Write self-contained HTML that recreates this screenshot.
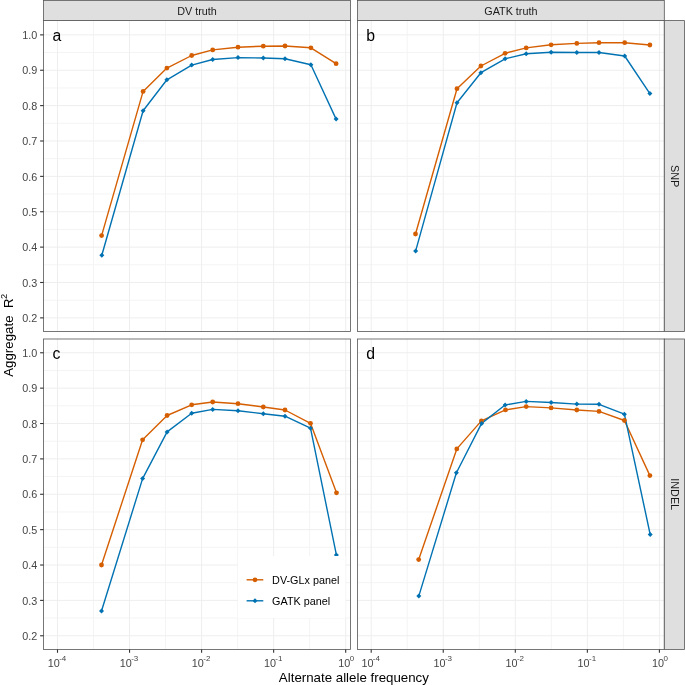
<!DOCTYPE html><html><head><meta charset="utf-8"><style>html,body{margin:0;padding:0;background:#fff;width:685px;height:685px;overflow:hidden}svg{display:block;will-change:transform}text{font-family:"Liberation Sans",sans-serif}</style></head><body>
<svg width="685" height="685" viewBox="0 0 685 685">
<rect width="685" height="685" fill="#fff"/>
<g>
<line x1="93.53" y1="20.6" x2="93.53" y2="331.5" stroke="#F4F4F4" stroke-width="1"/>
<line x1="165.57" y1="20.6" x2="165.57" y2="331.5" stroke="#F4F4F4" stroke-width="1"/>
<line x1="237.62" y1="20.6" x2="237.62" y2="331.5" stroke="#F4F4F4" stroke-width="1"/>
<line x1="309.67" y1="20.6" x2="309.67" y2="331.5" stroke="#F4F4F4" stroke-width="1"/>
<line x1="43.55" y1="300.18" x2="350.45" y2="300.18" stroke="#F4F4F4" stroke-width="1"/>
<line x1="43.55" y1="264.81" x2="350.45" y2="264.81" stroke="#F4F4F4" stroke-width="1"/>
<line x1="43.55" y1="229.43" x2="350.45" y2="229.43" stroke="#F4F4F4" stroke-width="1"/>
<line x1="43.55" y1="194.06" x2="350.45" y2="194.06" stroke="#F4F4F4" stroke-width="1"/>
<line x1="43.55" y1="158.68" x2="350.45" y2="158.68" stroke="#F4F4F4" stroke-width="1"/>
<line x1="43.55" y1="123.31" x2="350.45" y2="123.31" stroke="#F4F4F4" stroke-width="1"/>
<line x1="43.55" y1="87.93" x2="350.45" y2="87.93" stroke="#F4F4F4" stroke-width="1"/>
<line x1="43.55" y1="52.56" x2="350.45" y2="52.56" stroke="#F4F4F4" stroke-width="1"/>
<line x1="57.5" y1="20.6" x2="57.5" y2="331.5" stroke="#EEEEEE" stroke-width="1"/>
<line x1="129.55" y1="20.6" x2="129.55" y2="331.5" stroke="#EEEEEE" stroke-width="1"/>
<line x1="201.6" y1="20.6" x2="201.6" y2="331.5" stroke="#EEEEEE" stroke-width="1"/>
<line x1="273.65" y1="20.6" x2="273.65" y2="331.5" stroke="#EEEEEE" stroke-width="1"/>
<line x1="345.7" y1="20.6" x2="345.7" y2="331.5" stroke="#EEEEEE" stroke-width="1"/>
<line x1="43.55" y1="317.87" x2="350.45" y2="317.87" stroke="#EEEEEE" stroke-width="1"/>
<line x1="43.55" y1="282.49" x2="350.45" y2="282.49" stroke="#EEEEEE" stroke-width="1"/>
<line x1="43.55" y1="247.12" x2="350.45" y2="247.12" stroke="#EEEEEE" stroke-width="1"/>
<line x1="43.55" y1="211.75" x2="350.45" y2="211.75" stroke="#EEEEEE" stroke-width="1"/>
<line x1="43.55" y1="176.37" x2="350.45" y2="176.37" stroke="#EEEEEE" stroke-width="1"/>
<line x1="43.55" y1="140.99" x2="350.45" y2="140.99" stroke="#EEEEEE" stroke-width="1"/>
<line x1="43.55" y1="105.62" x2="350.45" y2="105.62" stroke="#EEEEEE" stroke-width="1"/>
<line x1="43.55" y1="70.24" x2="350.45" y2="70.24" stroke="#EEEEEE" stroke-width="1"/>
<line x1="43.55" y1="34.87" x2="350.45" y2="34.87" stroke="#EEEEEE" stroke-width="1"/>
</g>
<polyline points="101.6,235.6 143.1,91.4 166.9,68.1 191.7,55.5 212.7,49.9 238,47.2 263.3,46.2 285,46 310.9,47.8 336.1,63.7" fill="none" stroke="#D55E00" stroke-width="1.4" stroke-linejoin="round"/>
<polyline points="101.8,255.3 143.1,110.8 166.9,79.8 191.7,65.1 212.7,59.5 238,57.6 263.3,58 285,58.8 310.9,64.8 336.1,119.1" fill="none" stroke="#0072B2" stroke-width="1.4" stroke-linejoin="round"/>
<circle cx="101.6" cy="235.6" r="2.4" fill="#D55E00"/>
<circle cx="143.1" cy="91.4" r="2.4" fill="#D55E00"/>
<circle cx="166.9" cy="68.1" r="2.4" fill="#D55E00"/>
<circle cx="191.7" cy="55.5" r="2.4" fill="#D55E00"/>
<circle cx="212.7" cy="49.9" r="2.4" fill="#D55E00"/>
<circle cx="238" cy="47.2" r="2.4" fill="#D55E00"/>
<circle cx="263.3" cy="46.2" r="2.4" fill="#D55E00"/>
<circle cx="285" cy="46" r="2.4" fill="#D55E00"/>
<circle cx="310.9" cy="47.8" r="2.4" fill="#D55E00"/>
<circle cx="336.1" cy="63.7" r="2.4" fill="#D55E00"/>
<path d="M101.8 252.8L104.3 255.3L101.8 257.8L99.3 255.3Z" fill="#0072B2"/>
<path d="M143.1 108.3L145.6 110.8L143.1 113.3L140.6 110.8Z" fill="#0072B2"/>
<path d="M166.9 77.3L169.4 79.8L166.9 82.3L164.4 79.8Z" fill="#0072B2"/>
<path d="M191.7 62.6L194.2 65.1L191.7 67.6L189.2 65.1Z" fill="#0072B2"/>
<path d="M212.7 57L215.2 59.5L212.7 62L210.2 59.5Z" fill="#0072B2"/>
<path d="M238 55.1L240.5 57.6L238 60.1L235.5 57.6Z" fill="#0072B2"/>
<path d="M263.3 55.5L265.8 58L263.3 60.5L260.8 58Z" fill="#0072B2"/>
<path d="M285 56.3L287.5 58.8L285 61.3L282.5 58.8Z" fill="#0072B2"/>
<path d="M310.9 62.3L313.4 64.8L310.9 67.3L308.4 64.8Z" fill="#0072B2"/>
<path d="M336.1 116.6L338.6 119.1L336.1 121.6L333.6 119.1Z" fill="#0072B2"/>
<text x="52.6" y="40.9" font-size="15.8" fill="#000">a</text>
<g>
<line x1="407.23" y1="20.6" x2="407.23" y2="331.5" stroke="#F4F4F4" stroke-width="1"/>
<line x1="479.27" y1="20.6" x2="479.27" y2="331.5" stroke="#F4F4F4" stroke-width="1"/>
<line x1="551.33" y1="20.6" x2="551.33" y2="331.5" stroke="#F4F4F4" stroke-width="1"/>
<line x1="623.38" y1="20.6" x2="623.38" y2="331.5" stroke="#F4F4F4" stroke-width="1"/>
<line x1="357.45" y1="300.18" x2="664.3" y2="300.18" stroke="#F4F4F4" stroke-width="1"/>
<line x1="357.45" y1="264.81" x2="664.3" y2="264.81" stroke="#F4F4F4" stroke-width="1"/>
<line x1="357.45" y1="229.43" x2="664.3" y2="229.43" stroke="#F4F4F4" stroke-width="1"/>
<line x1="357.45" y1="194.06" x2="664.3" y2="194.06" stroke="#F4F4F4" stroke-width="1"/>
<line x1="357.45" y1="158.68" x2="664.3" y2="158.68" stroke="#F4F4F4" stroke-width="1"/>
<line x1="357.45" y1="123.31" x2="664.3" y2="123.31" stroke="#F4F4F4" stroke-width="1"/>
<line x1="357.45" y1="87.93" x2="664.3" y2="87.93" stroke="#F4F4F4" stroke-width="1"/>
<line x1="357.45" y1="52.56" x2="664.3" y2="52.56" stroke="#F4F4F4" stroke-width="1"/>
<line x1="371.2" y1="20.6" x2="371.2" y2="331.5" stroke="#EEEEEE" stroke-width="1"/>
<line x1="443.25" y1="20.6" x2="443.25" y2="331.5" stroke="#EEEEEE" stroke-width="1"/>
<line x1="515.3" y1="20.6" x2="515.3" y2="331.5" stroke="#EEEEEE" stroke-width="1"/>
<line x1="587.35" y1="20.6" x2="587.35" y2="331.5" stroke="#EEEEEE" stroke-width="1"/>
<line x1="659.4" y1="20.6" x2="659.4" y2="331.5" stroke="#EEEEEE" stroke-width="1"/>
<line x1="357.45" y1="317.87" x2="664.3" y2="317.87" stroke="#EEEEEE" stroke-width="1"/>
<line x1="357.45" y1="282.49" x2="664.3" y2="282.49" stroke="#EEEEEE" stroke-width="1"/>
<line x1="357.45" y1="247.12" x2="664.3" y2="247.12" stroke="#EEEEEE" stroke-width="1"/>
<line x1="357.45" y1="211.75" x2="664.3" y2="211.75" stroke="#EEEEEE" stroke-width="1"/>
<line x1="357.45" y1="176.37" x2="664.3" y2="176.37" stroke="#EEEEEE" stroke-width="1"/>
<line x1="357.45" y1="140.99" x2="664.3" y2="140.99" stroke="#EEEEEE" stroke-width="1"/>
<line x1="357.45" y1="105.62" x2="664.3" y2="105.62" stroke="#EEEEEE" stroke-width="1"/>
<line x1="357.45" y1="70.24" x2="664.3" y2="70.24" stroke="#EEEEEE" stroke-width="1"/>
<line x1="357.45" y1="34.87" x2="664.3" y2="34.87" stroke="#EEEEEE" stroke-width="1"/>
</g>
<polyline points="415.5,234 457,88.7 480.9,66 505.1,53.3 526.2,47.9 551.1,44.8 576.8,43.4 599,42.7 624.7,42.7 649.9,45" fill="none" stroke="#D55E00" stroke-width="1.4" stroke-linejoin="round"/>
<polyline points="415.6,251.1 457,102.8 480.9,72.7 505.1,58.8 526.2,53.8 551.1,52.2 576.8,52.5 599,52.5 624.7,56 649.9,93.6" fill="none" stroke="#0072B2" stroke-width="1.4" stroke-linejoin="round"/>
<circle cx="415.5" cy="234" r="2.4" fill="#D55E00"/>
<circle cx="457" cy="88.7" r="2.4" fill="#D55E00"/>
<circle cx="480.9" cy="66" r="2.4" fill="#D55E00"/>
<circle cx="505.1" cy="53.3" r="2.4" fill="#D55E00"/>
<circle cx="526.2" cy="47.9" r="2.4" fill="#D55E00"/>
<circle cx="551.1" cy="44.8" r="2.4" fill="#D55E00"/>
<circle cx="576.8" cy="43.4" r="2.4" fill="#D55E00"/>
<circle cx="599" cy="42.7" r="2.4" fill="#D55E00"/>
<circle cx="624.7" cy="42.7" r="2.4" fill="#D55E00"/>
<circle cx="649.9" cy="45" r="2.4" fill="#D55E00"/>
<path d="M415.6 248.6L418.1 251.1L415.6 253.6L413.1 251.1Z" fill="#0072B2"/>
<path d="M457 100.3L459.5 102.8L457 105.3L454.5 102.8Z" fill="#0072B2"/>
<path d="M480.9 70.2L483.4 72.7L480.9 75.2L478.4 72.7Z" fill="#0072B2"/>
<path d="M505.1 56.3L507.6 58.8L505.1 61.3L502.6 58.8Z" fill="#0072B2"/>
<path d="M526.2 51.3L528.7 53.8L526.2 56.3L523.7 53.8Z" fill="#0072B2"/>
<path d="M551.1 49.7L553.6 52.2L551.1 54.7L548.6 52.2Z" fill="#0072B2"/>
<path d="M576.8 50L579.3 52.5L576.8 55L574.3 52.5Z" fill="#0072B2"/>
<path d="M599 50L601.5 52.5L599 55L596.5 52.5Z" fill="#0072B2"/>
<path d="M624.7 53.5L627.2 56L624.7 58.5L622.2 56Z" fill="#0072B2"/>
<path d="M649.9 91.1L652.4 93.6L649.9 96.1L647.4 93.6Z" fill="#0072B2"/>
<text x="366.3" y="40.9" font-size="15.8" fill="#000">b</text>
<g>
<line x1="93.53" y1="339" x2="93.53" y2="649.4" stroke="#F4F4F4" stroke-width="1"/>
<line x1="165.57" y1="339" x2="165.57" y2="649.4" stroke="#F4F4F4" stroke-width="1"/>
<line x1="237.62" y1="339" x2="237.62" y2="649.4" stroke="#F4F4F4" stroke-width="1"/>
<line x1="309.67" y1="339" x2="309.67" y2="649.4" stroke="#F4F4F4" stroke-width="1"/>
<line x1="43.55" y1="618.08" x2="350.45" y2="618.08" stroke="#F4F4F4" stroke-width="1"/>
<line x1="43.55" y1="582.71" x2="350.45" y2="582.71" stroke="#F4F4F4" stroke-width="1"/>
<line x1="43.55" y1="547.33" x2="350.45" y2="547.33" stroke="#F4F4F4" stroke-width="1"/>
<line x1="43.55" y1="511.96" x2="350.45" y2="511.96" stroke="#F4F4F4" stroke-width="1"/>
<line x1="43.55" y1="476.58" x2="350.45" y2="476.58" stroke="#F4F4F4" stroke-width="1"/>
<line x1="43.55" y1="441.21" x2="350.45" y2="441.21" stroke="#F4F4F4" stroke-width="1"/>
<line x1="43.55" y1="405.83" x2="350.45" y2="405.83" stroke="#F4F4F4" stroke-width="1"/>
<line x1="43.55" y1="370.46" x2="350.45" y2="370.46" stroke="#F4F4F4" stroke-width="1"/>
<line x1="57.5" y1="339" x2="57.5" y2="649.4" stroke="#EEEEEE" stroke-width="1"/>
<line x1="129.55" y1="339" x2="129.55" y2="649.4" stroke="#EEEEEE" stroke-width="1"/>
<line x1="201.6" y1="339" x2="201.6" y2="649.4" stroke="#EEEEEE" stroke-width="1"/>
<line x1="273.65" y1="339" x2="273.65" y2="649.4" stroke="#EEEEEE" stroke-width="1"/>
<line x1="345.7" y1="339" x2="345.7" y2="649.4" stroke="#EEEEEE" stroke-width="1"/>
<line x1="43.55" y1="635.77" x2="350.45" y2="635.77" stroke="#EEEEEE" stroke-width="1"/>
<line x1="43.55" y1="600.39" x2="350.45" y2="600.39" stroke="#EEEEEE" stroke-width="1"/>
<line x1="43.55" y1="565.02" x2="350.45" y2="565.02" stroke="#EEEEEE" stroke-width="1"/>
<line x1="43.55" y1="529.64" x2="350.45" y2="529.64" stroke="#EEEEEE" stroke-width="1"/>
<line x1="43.55" y1="494.27" x2="350.45" y2="494.27" stroke="#EEEEEE" stroke-width="1"/>
<line x1="43.55" y1="458.89" x2="350.45" y2="458.89" stroke="#EEEEEE" stroke-width="1"/>
<line x1="43.55" y1="423.52" x2="350.45" y2="423.52" stroke="#EEEEEE" stroke-width="1"/>
<line x1="43.55" y1="388.14" x2="350.45" y2="388.14" stroke="#EEEEEE" stroke-width="1"/>
<line x1="43.55" y1="352.77" x2="350.45" y2="352.77" stroke="#EEEEEE" stroke-width="1"/>
</g>
<polyline points="101.5,565 142.6,439.8 167.1,415.5 191.7,404.8 212.7,402 238,403.7 263.3,407 285,410 310.5,423.3 336.5,492.8" fill="none" stroke="#D55E00" stroke-width="1.4" stroke-linejoin="round"/>
<polyline points="101.5,611 142.6,478.6 167.1,431.9 191.7,413.2 212.7,409.4 238,410.7 263.3,413.7 285,416.2 310.5,428.2 336.4,554.9" fill="none" stroke="#0072B2" stroke-width="1.4" stroke-linejoin="round"/>
<circle cx="101.5" cy="565" r="2.4" fill="#D55E00"/>
<circle cx="142.6" cy="439.8" r="2.4" fill="#D55E00"/>
<circle cx="167.1" cy="415.5" r="2.4" fill="#D55E00"/>
<circle cx="191.7" cy="404.8" r="2.4" fill="#D55E00"/>
<circle cx="212.7" cy="402" r="2.4" fill="#D55E00"/>
<circle cx="238" cy="403.7" r="2.4" fill="#D55E00"/>
<circle cx="263.3" cy="407" r="2.4" fill="#D55E00"/>
<circle cx="285" cy="410" r="2.4" fill="#D55E00"/>
<circle cx="310.5" cy="423.3" r="2.4" fill="#D55E00"/>
<circle cx="336.5" cy="492.8" r="2.4" fill="#D55E00"/>
<path d="M101.5 608.5L104 611L101.5 613.5L99 611Z" fill="#0072B2"/>
<path d="M142.6 476.1L145.1 478.6L142.6 481.1L140.1 478.6Z" fill="#0072B2"/>
<path d="M167.1 429.4L169.6 431.9L167.1 434.4L164.6 431.9Z" fill="#0072B2"/>
<path d="M191.7 410.7L194.2 413.2L191.7 415.7L189.2 413.2Z" fill="#0072B2"/>
<path d="M212.7 406.9L215.2 409.4L212.7 411.9L210.2 409.4Z" fill="#0072B2"/>
<path d="M238 408.2L240.5 410.7L238 413.2L235.5 410.7Z" fill="#0072B2"/>
<path d="M263.3 411.2L265.8 413.7L263.3 416.2L260.8 413.7Z" fill="#0072B2"/>
<path d="M285 413.7L287.5 416.2L285 418.7L282.5 416.2Z" fill="#0072B2"/>
<path d="M310.5 425.7L313 428.2L310.5 430.7L308 428.2Z" fill="#0072B2"/>
<path d="M336.4 552.4L338.9 554.9L336.4 557.4L333.9 554.9Z" fill="#0072B2"/>
<text x="52.6" y="358.8" font-size="15.8" fill="#000">c</text>
<g>
<line x1="407.23" y1="339" x2="407.23" y2="649.4" stroke="#F4F4F4" stroke-width="1"/>
<line x1="479.27" y1="339" x2="479.27" y2="649.4" stroke="#F4F4F4" stroke-width="1"/>
<line x1="551.33" y1="339" x2="551.33" y2="649.4" stroke="#F4F4F4" stroke-width="1"/>
<line x1="623.38" y1="339" x2="623.38" y2="649.4" stroke="#F4F4F4" stroke-width="1"/>
<line x1="357.45" y1="618.08" x2="664.3" y2="618.08" stroke="#F4F4F4" stroke-width="1"/>
<line x1="357.45" y1="582.71" x2="664.3" y2="582.71" stroke="#F4F4F4" stroke-width="1"/>
<line x1="357.45" y1="547.33" x2="664.3" y2="547.33" stroke="#F4F4F4" stroke-width="1"/>
<line x1="357.45" y1="511.96" x2="664.3" y2="511.96" stroke="#F4F4F4" stroke-width="1"/>
<line x1="357.45" y1="476.58" x2="664.3" y2="476.58" stroke="#F4F4F4" stroke-width="1"/>
<line x1="357.45" y1="441.21" x2="664.3" y2="441.21" stroke="#F4F4F4" stroke-width="1"/>
<line x1="357.45" y1="405.83" x2="664.3" y2="405.83" stroke="#F4F4F4" stroke-width="1"/>
<line x1="357.45" y1="370.46" x2="664.3" y2="370.46" stroke="#F4F4F4" stroke-width="1"/>
<line x1="371.2" y1="339" x2="371.2" y2="649.4" stroke="#EEEEEE" stroke-width="1"/>
<line x1="443.25" y1="339" x2="443.25" y2="649.4" stroke="#EEEEEE" stroke-width="1"/>
<line x1="515.3" y1="339" x2="515.3" y2="649.4" stroke="#EEEEEE" stroke-width="1"/>
<line x1="587.35" y1="339" x2="587.35" y2="649.4" stroke="#EEEEEE" stroke-width="1"/>
<line x1="659.4" y1="339" x2="659.4" y2="649.4" stroke="#EEEEEE" stroke-width="1"/>
<line x1="357.45" y1="635.77" x2="664.3" y2="635.77" stroke="#EEEEEE" stroke-width="1"/>
<line x1="357.45" y1="600.39" x2="664.3" y2="600.39" stroke="#EEEEEE" stroke-width="1"/>
<line x1="357.45" y1="565.02" x2="664.3" y2="565.02" stroke="#EEEEEE" stroke-width="1"/>
<line x1="357.45" y1="529.64" x2="664.3" y2="529.64" stroke="#EEEEEE" stroke-width="1"/>
<line x1="357.45" y1="494.27" x2="664.3" y2="494.27" stroke="#EEEEEE" stroke-width="1"/>
<line x1="357.45" y1="458.89" x2="664.3" y2="458.89" stroke="#EEEEEE" stroke-width="1"/>
<line x1="357.45" y1="423.52" x2="664.3" y2="423.52" stroke="#EEEEEE" stroke-width="1"/>
<line x1="357.45" y1="388.14" x2="664.3" y2="388.14" stroke="#EEEEEE" stroke-width="1"/>
<line x1="357.45" y1="352.77" x2="664.3" y2="352.77" stroke="#EEEEEE" stroke-width="1"/>
</g>
<polyline points="418.7,559.6 456.8,448.9 481.4,420.9 505.5,409.9 526.2,406.6 551.1,407.9 576.8,410 599,411.4 624.4,420.5 649.9,475.6" fill="none" stroke="#D55E00" stroke-width="1.4" stroke-linejoin="round"/>
<polyline points="418.8,596.1 456.4,472.8 481.6,423.4 505.1,405 526.2,401.4 551.1,402.5 576.8,404.1 599,404.3 624.4,414.2 650.2,534.5" fill="none" stroke="#0072B2" stroke-width="1.4" stroke-linejoin="round"/>
<circle cx="418.7" cy="559.6" r="2.4" fill="#D55E00"/>
<circle cx="456.8" cy="448.9" r="2.4" fill="#D55E00"/>
<circle cx="481.4" cy="420.9" r="2.4" fill="#D55E00"/>
<circle cx="505.5" cy="409.9" r="2.4" fill="#D55E00"/>
<circle cx="526.2" cy="406.6" r="2.4" fill="#D55E00"/>
<circle cx="551.1" cy="407.9" r="2.4" fill="#D55E00"/>
<circle cx="576.8" cy="410" r="2.4" fill="#D55E00"/>
<circle cx="599" cy="411.4" r="2.4" fill="#D55E00"/>
<circle cx="624.4" cy="420.5" r="2.4" fill="#D55E00"/>
<circle cx="649.9" cy="475.6" r="2.4" fill="#D55E00"/>
<path d="M418.8 593.6L421.3 596.1L418.8 598.6L416.3 596.1Z" fill="#0072B2"/>
<path d="M456.4 470.3L458.9 472.8L456.4 475.3L453.9 472.8Z" fill="#0072B2"/>
<path d="M481.6 420.9L484.1 423.4L481.6 425.9L479.1 423.4Z" fill="#0072B2"/>
<path d="M505.1 402.5L507.6 405L505.1 407.5L502.6 405Z" fill="#0072B2"/>
<path d="M526.2 398.9L528.7 401.4L526.2 403.9L523.7 401.4Z" fill="#0072B2"/>
<path d="M551.1 400L553.6 402.5L551.1 405L548.6 402.5Z" fill="#0072B2"/>
<path d="M576.8 401.6L579.3 404.1L576.8 406.6L574.3 404.1Z" fill="#0072B2"/>
<path d="M599 401.8L601.5 404.3L599 406.8L596.5 404.3Z" fill="#0072B2"/>
<path d="M624.4 411.7L626.9 414.2L624.4 416.7L621.9 414.2Z" fill="#0072B2"/>
<path d="M650.2 532L652.7 534.5L650.2 537L647.7 534.5Z" fill="#0072B2"/>
<text x="366.3" y="358.8" font-size="15.8" fill="#000">d</text>
<rect x="237.9" y="556.0" width="107.6" height="62" fill="#fff"/>
<line x1="246.6" y1="579.8" x2="263.3" y2="579.8" stroke="#D55E00" stroke-width="1.4"/>
<circle cx="255.0" cy="579.8" r="2.4" fill="#D55E00"/>
<text x="272.1" y="583.7" font-size="10.8" fill="#000">DV-GLx panel</text>
<line x1="246.6" y1="600.8" x2="263.3" y2="600.8" stroke="#0072B2" stroke-width="1.4"/>
<path d="M255 598.3L257.5 600.8L255 603.3L252.5 600.8Z" fill="#0072B2"/>
<text x="272.1" y="604.7" font-size="10.8" fill="#000">GATK panel</text>
<rect x="43.55" y="20.6" width="306.9" height="310.9" fill="none" stroke="#555555" stroke-width="0.8"/>
<rect x="357.45" y="20.6" width="306.85" height="310.9" fill="none" stroke="#555555" stroke-width="0.8"/>
<rect x="43.55" y="339" width="306.9" height="310.4" fill="none" stroke="#555555" stroke-width="0.8"/>
<rect x="357.45" y="339" width="306.85" height="310.4" fill="none" stroke="#555555" stroke-width="0.8"/>
<rect x="43.55" y="0.4" width="306.9" height="20.2" fill="#DFDFDF" stroke="#555555" stroke-width="0.8"/>
<text x="197" y="14.6" font-size="10.8" fill="#1A1A1A" text-anchor="middle">DV truth</text>
<rect x="357.45" y="0.4" width="306.85" height="20.2" fill="#DFDFDF" stroke="#555555" stroke-width="0.8"/>
<text x="510.88" y="14.6" font-size="10.8" fill="#1A1A1A" text-anchor="middle">GATK truth</text>
<rect x="664.3" y="20.6" width="20.1" height="310.9" fill="#DFDFDF" stroke="#555555" stroke-width="0.8"/>
<text transform="translate(670.6 176.05) rotate(90)" x="0" y="0" font-size="10.8" fill="#1A1A1A" text-anchor="middle">SNP</text>
<rect x="664.3" y="339" width="20.1" height="310.4" fill="#DFDFDF" stroke="#555555" stroke-width="0.8"/>
<text transform="translate(670.6 494.2) rotate(90)" x="0" y="0" font-size="10.8" fill="#1A1A1A" text-anchor="middle">INDEL</text>
<line x1="40.1" y1="317.87" x2="43.55" y2="317.87" stroke="#333333" stroke-width="1.1"/>
<text x="37.3" y="322.07" font-size="10.8" fill="#454545" text-anchor="end">0.2</text>
<line x1="40.1" y1="282.49" x2="43.55" y2="282.49" stroke="#333333" stroke-width="1.1"/>
<text x="37.3" y="286.69" font-size="10.8" fill="#454545" text-anchor="end">0.3</text>
<line x1="40.1" y1="247.12" x2="43.55" y2="247.12" stroke="#333333" stroke-width="1.1"/>
<text x="37.3" y="251.32" font-size="10.8" fill="#454545" text-anchor="end">0.4</text>
<line x1="40.1" y1="211.75" x2="43.55" y2="211.75" stroke="#333333" stroke-width="1.1"/>
<text x="37.3" y="215.94" font-size="10.8" fill="#454545" text-anchor="end">0.5</text>
<line x1="40.1" y1="176.37" x2="43.55" y2="176.37" stroke="#333333" stroke-width="1.1"/>
<text x="37.3" y="180.57" font-size="10.8" fill="#454545" text-anchor="end">0.6</text>
<line x1="40.1" y1="140.99" x2="43.55" y2="140.99" stroke="#333333" stroke-width="1.1"/>
<text x="37.3" y="145.19" font-size="10.8" fill="#454545" text-anchor="end">0.7</text>
<line x1="40.1" y1="105.62" x2="43.55" y2="105.62" stroke="#333333" stroke-width="1.1"/>
<text x="37.3" y="109.82" font-size="10.8" fill="#454545" text-anchor="end">0.8</text>
<line x1="40.1" y1="70.24" x2="43.55" y2="70.24" stroke="#333333" stroke-width="1.1"/>
<text x="37.3" y="74.44" font-size="10.8" fill="#454545" text-anchor="end">0.9</text>
<line x1="40.1" y1="34.87" x2="43.55" y2="34.87" stroke="#333333" stroke-width="1.1"/>
<text x="37.3" y="39.07" font-size="10.8" fill="#454545" text-anchor="end">1.0</text>
<line x1="40.1" y1="635.77" x2="43.55" y2="635.77" stroke="#333333" stroke-width="1.1"/>
<text x="37.3" y="639.97" font-size="10.8" fill="#454545" text-anchor="end">0.2</text>
<line x1="40.1" y1="600.39" x2="43.55" y2="600.39" stroke="#333333" stroke-width="1.1"/>
<text x="37.3" y="604.6" font-size="10.8" fill="#454545" text-anchor="end">0.3</text>
<line x1="40.1" y1="565.02" x2="43.55" y2="565.02" stroke="#333333" stroke-width="1.1"/>
<text x="37.3" y="569.22" font-size="10.8" fill="#454545" text-anchor="end">0.4</text>
<line x1="40.1" y1="529.64" x2="43.55" y2="529.64" stroke="#333333" stroke-width="1.1"/>
<text x="37.3" y="533.85" font-size="10.8" fill="#454545" text-anchor="end">0.5</text>
<line x1="40.1" y1="494.27" x2="43.55" y2="494.27" stroke="#333333" stroke-width="1.1"/>
<text x="37.3" y="498.47" font-size="10.8" fill="#454545" text-anchor="end">0.6</text>
<line x1="40.1" y1="458.89" x2="43.55" y2="458.89" stroke="#333333" stroke-width="1.1"/>
<text x="37.3" y="463.09" font-size="10.8" fill="#454545" text-anchor="end">0.7</text>
<line x1="40.1" y1="423.52" x2="43.55" y2="423.52" stroke="#333333" stroke-width="1.1"/>
<text x="37.3" y="427.72" font-size="10.8" fill="#454545" text-anchor="end">0.8</text>
<line x1="40.1" y1="388.14" x2="43.55" y2="388.14" stroke="#333333" stroke-width="1.1"/>
<text x="37.3" y="392.34" font-size="10.8" fill="#454545" text-anchor="end">0.9</text>
<line x1="40.1" y1="352.77" x2="43.55" y2="352.77" stroke="#333333" stroke-width="1.1"/>
<text x="37.3" y="356.97" font-size="10.8" fill="#454545" text-anchor="end">1.0</text>
<line x1="57.5" y1="649.4" x2="57.5" y2="652.8" stroke="#333333" stroke-width="1.1"/>
<text x="47.74" y="666.6" font-size="10.8" fill="#454545">10</text>
<text x="59.15" y="661.2" font-size="7.99" fill="#454545">-4</text>
<line x1="129.55" y1="649.4" x2="129.55" y2="652.8" stroke="#333333" stroke-width="1.1"/>
<text x="119.79" y="666.6" font-size="10.8" fill="#454545">10</text>
<text x="131.2" y="661.2" font-size="7.99" fill="#454545">-3</text>
<line x1="201.6" y1="649.4" x2="201.6" y2="652.8" stroke="#333333" stroke-width="1.1"/>
<text x="191.84" y="666.6" font-size="10.8" fill="#454545">10</text>
<text x="203.25" y="661.2" font-size="7.99" fill="#454545">-2</text>
<line x1="273.65" y1="649.4" x2="273.65" y2="652.8" stroke="#333333" stroke-width="1.1"/>
<text x="263.89" y="666.6" font-size="10.8" fill="#454545">10</text>
<text x="275.3" y="661.2" font-size="7.99" fill="#454545">-1</text>
<line x1="345.7" y1="649.4" x2="345.7" y2="652.8" stroke="#333333" stroke-width="1.1"/>
<text x="338.27" y="666.6" font-size="10.8" fill="#454545">10</text>
<text x="349.68" y="661.2" font-size="7.99" fill="#454545">0</text>
<line x1="371.2" y1="649.4" x2="371.2" y2="652.8" stroke="#333333" stroke-width="1.1"/>
<text x="361.44" y="666.6" font-size="10.8" fill="#454545">10</text>
<text x="372.85" y="661.2" font-size="7.99" fill="#454545">-4</text>
<line x1="443.25" y1="649.4" x2="443.25" y2="652.8" stroke="#333333" stroke-width="1.1"/>
<text x="433.49" y="666.6" font-size="10.8" fill="#454545">10</text>
<text x="444.9" y="661.2" font-size="7.99" fill="#454545">-3</text>
<line x1="515.3" y1="649.4" x2="515.3" y2="652.8" stroke="#333333" stroke-width="1.1"/>
<text x="505.54" y="666.6" font-size="10.8" fill="#454545">10</text>
<text x="516.95" y="661.2" font-size="7.99" fill="#454545">-2</text>
<line x1="587.35" y1="649.4" x2="587.35" y2="652.8" stroke="#333333" stroke-width="1.1"/>
<text x="577.59" y="666.6" font-size="10.8" fill="#454545">10</text>
<text x="589" y="661.2" font-size="7.99" fill="#454545">-1</text>
<line x1="659.4" y1="649.4" x2="659.4" y2="652.8" stroke="#333333" stroke-width="1.1"/>
<text x="651.97" y="666.6" font-size="10.8" fill="#454545">10</text>
<text x="663.38" y="661.2" font-size="7.99" fill="#454545">0</text>
<text x="353.9" y="681.6" font-size="13.3" fill="#000" text-anchor="middle">Alternate allele frequency</text>
<g transform="translate(13.3 335.3) rotate(-90)">
<text x="-41.5" y="0" font-size="13.3" fill="#000">Aggregate</text>
<text x="27.3" y="0" font-size="13.3" fill="#000">R</text>
<text x="36.4" y="-6.6" font-size="9.31" fill="#000">2</text>
</g>
</svg></body></html>
